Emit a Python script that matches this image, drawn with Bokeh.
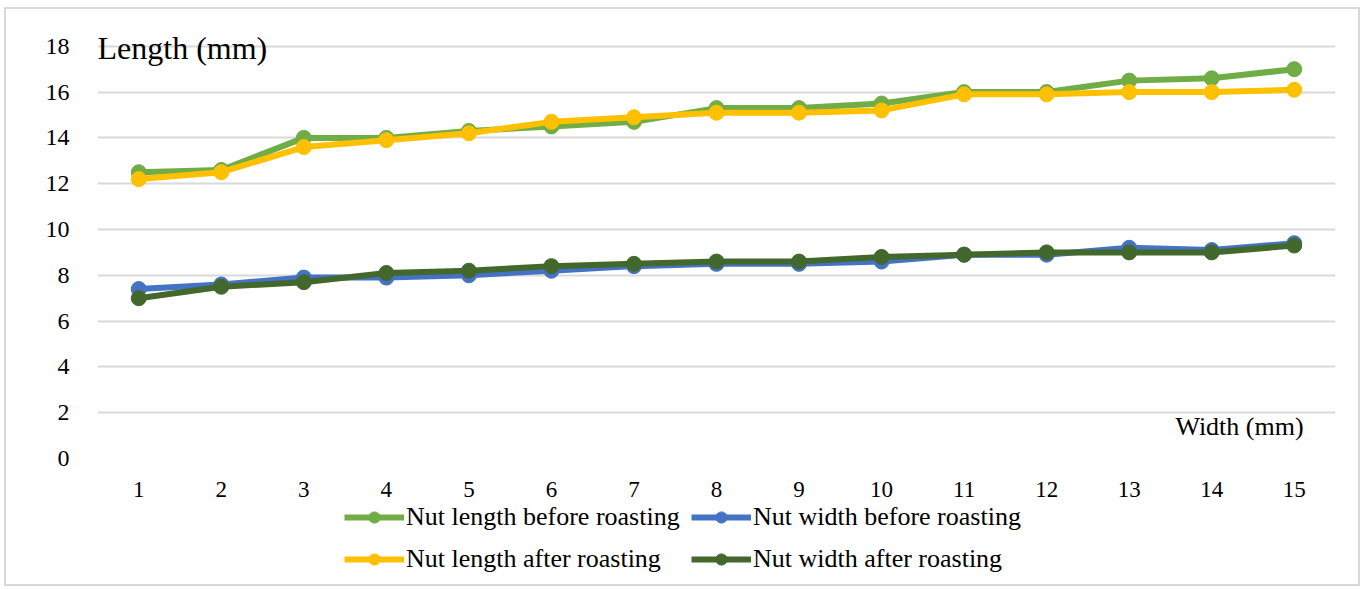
from bokeh.plotting import figure
from bokeh.layouts import column
from bokeh.models import ColumnDataSource, Legend, LegendItem, FixedTicker, Label
from bokeh.embed import file_html
from bokeh.resources import INLINE

x = list(range(1, 16))
length_before = [12.5, 12.6, 14.0, 14.0, 14.3, 14.5, 14.7, 15.3, 15.3, 15.5, 16.0, 16.0, 16.5, 16.6, 17.0]
width_before = [7.4, 7.6, 7.9, 7.9, 8.0, 8.2, 8.4, 8.5, 8.5, 8.6, 8.9, 8.9, 9.2, 9.1, 9.4]
length_after = [12.2, 12.5, 13.6, 13.9, 14.2, 14.7, 14.9, 15.1, 15.1, 15.2, 15.9, 15.9, 16.0, 16.0, 16.1]
width_after = [7.0, 7.5, 7.7, 8.1, 8.2, 8.4, 8.5, 8.6, 8.6, 8.8, 8.9, 9.0, 9.0, 9.0, 9.3]
y_ticks = [0, 2, 4, 6, 8, 10, 12, 14, 16, 18]

series = [
    ("Nut length before roasting", length_before, "#70AD47"),
    ("Nut width before roasting", width_before, "#4472C4"),
    ("Nut length after roasting", length_after, "#FFC000"),
    ("Nut width after roasting", width_after, "#43682B"),
]

FONT = "Liberation Serif"

p = figure(width=1352, height=491, output_backend="svg", toolbar_location=None,
           x_range=(0.5, 15.5), y_range=(0, 19.3),
           min_border_left=91, min_border_right=23, min_border_top=7, min_border_bottom=42)
p.outline_line_color = None
p.xgrid.grid_line_color = None
p.ygrid.grid_line_color = "#D9D9D9"
p.ygrid.grid_line_width = 2
p.yaxis.ticker = FixedTicker(ticks=y_ticks)
p.xaxis.ticker = FixedTicker(ticks=x)
for ax in (p.xaxis, p.yaxis):
    ax.axis_line_color = None
    ax.major_tick_line_color = None
    ax.minor_tick_line_color = None
    ax.major_label_text_font = FONT
    ax.major_label_text_color = "#000000"
p.xaxis.major_label_text_font_size = "23px"
p.yaxis.major_label_text_font_size = "24px"
p.xaxis.major_label_standoff = 17
p.yaxis.major_label_standoff = 22

for name, vals, color in series:
    src = ColumnDataSource(dict(x=x, y=vals))
    p.line("x", "y", source=src, line_color=color, line_width=6)
    p.scatter("x", "y", source=src, size=15, fill_color=color, line_color=color)

p.add_layout(Label(x=0.5, y=17.91, text="Length (mm)", text_font=FONT, text_color="#000000",
                   text_font_size="32px", text_baseline="middle", text_align="left"))
p.add_layout(Label(x=13.56, y=1.4, text="Width (mm)", text_font=FONT, text_color="#000000",
                   text_font_size="26px", text_baseline="middle", text_align="left"))

# legend strip below the chart (same series styles, drawn outside its view)
lp = figure(width=1352, height=84, output_backend="svg", toolbar_location=None,
            x_range=(0, 1), y_range=(0, 1), min_border=0)
lp.axis.visible = False
lp.grid.visible = False
lp.outline_line_color = None
leg_r = {}
for name, vals, color in series:
    src = ColumnDataSource(dict(x=[v + 10 for v in x], y=vals))
    l = lp.line("x", "y", source=src, line_color=color, line_width=6)
    c = lp.scatter("x", "y", source=src, size=15, fill_color=color, line_color=color)
    leg_r[name] = [l, c]

def make_legend(names, loc):
    lg = Legend(items=[LegendItem(label=n, renderers=leg_r[n]) for n in names],
                location=loc, orientation="vertical",
                label_text_font=FONT, label_text_font_size="26px", label_text_color="#000000",
                glyph_width=60, glyph_height=28, label_height=28,
                spacing=12, label_standoff=2,
                border_line_color=None, background_fill_alpha=0, padding=0, margin=0)
    lp.add_layout(lg, "center")

make_legend(["Nut length before roasting", "Nut length after roasting"], (247, 10))
make_legend(["Nut width before roasting", "Nut width after roasting"], (594, 10))

layout = column(p, lp, spacing=0,
                styles={"border": "2px solid #D9D9D9", "margin-left": "4px", "margin-top": "7px"})

open("out.html", "w").write(file_html(layout, INLINE))
